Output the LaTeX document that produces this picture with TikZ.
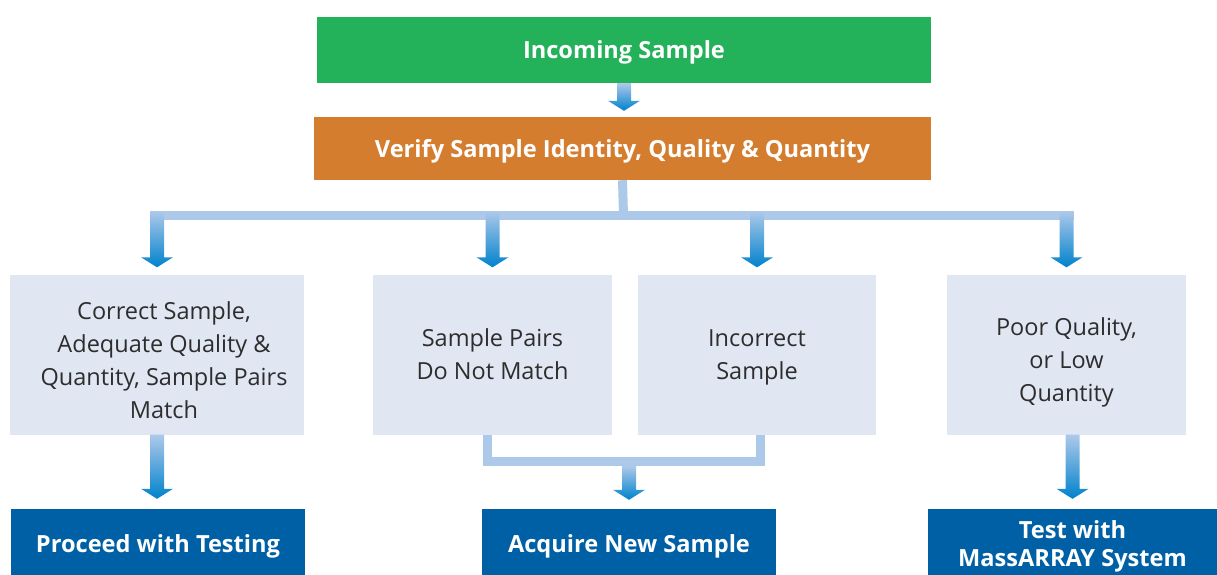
\documentclass[tikz,border=0pt]{standalone}
\usepackage{fontspec}
\setmainfont{Open Sans}
\usepackage{xcolor}
\usetikzlibrary{calc, positioning}

\definecolor{startgreen}{RGB}{35,178,90}
\definecolor{checkorange}{RGB}{213,125,46}
\definecolor{caseshade}{RGB}{224,230,242}
\definecolor{resultblue}{RGB}{0,96,166}
\definecolor{barblue}{RGB}{173,201,234}
\definecolor{arrowblue}{RGB}{0,130,204}
\definecolor{casetext}{RGB}{45,45,45}

% shaded block arrow, from #1 down to the tip #2
\newcommand{\flowarrow}[2]{%
  \shade[top color=barblue, middle color=barblue!80!arrowblue, bottom color=arrowblue]
    let \p1=(#1), \p2=(#2) in
    (\x1-7pt,\y1) -- (\x1+7pt,\y1) -- (\x1+7pt,\y2+10pt) -- (\x1+16pt,\y2+10pt)
    -- (\x1,\y2) -- (\x1-16pt,\y2+10pt) -- (\x1-7pt,\y2+10pt) -- cycle;}
% taller first line, pushes a case text down
\newcommand{\firstline}[1]{\rule{0pt}{#1}}
% pushes one centred line a little to the right
\newcommand{\nudge}{\hspace*{14pt}}

\begin{document}
\begin{tikzpicture}[
    x=1pt, y=-1pt,
    head/.style={rectangle, inner sep=0pt, text=white, align=center, font=\fontsize{23.6}{28}\selectfont\bfseries},
    top/.style={head, text depth=0pt},
    case/.style={rectangle, fill=caseshade, minimum height=160pt, inner sep=0pt, align=center, text=casetext, font=\fontsize{23.5}{33}\selectfont},
    result/.style={head, fill=resultblue, minimum height=75pt},
    bar/.style={barblue, line width=9pt}
]
\useasboundingbox (0,0) rectangle (1217,574);

\node[top, fill=startgreen, minimum width=614pt, minimum height=66pt] (incoming) at (624,50) {Incoming Sample};
\node[top, fill=checkorange, minimum width=617pt, minimum height=63pt] (verify) at (622.5,148.5) {Verify Sample Identity, Quality \& Quantity};

\node[case, minimum width=294pt] (ok) at (157,354.5) {\firstline{30pt}\nudge Correct Sample,\\\nudge Adequate Quality \&\\\nudge Quantity, Sample Pairs\\\nudge Match};
\node[case, minimum width=239pt] (nomatch) at (492.5,354.5) {Sample Pairs\\Do Not Match};
\node[case, minimum width=238pt] (wrong) at (757,354.5) {\firstline{22pt}Incorrect\\Sample};
\node[case, minimum width=239pt] (poor) at (1066.5,354.5) {\firstline{34pt}Poor Quality,\\or Low\\Quantity};

\node[result, minimum width=294pt] (proceed) at (158,546.5) {Proceed with Testing};
\node[result, minimum width=294pt] (acquire) at (629,546.5) {Acquire New Sample};
\node[result, minimum width=289pt] (massarray) at (1072.5,546.5) {Test with\\MassARRAY System};

% top
\flowarrow{incoming.south}{$(verify.north)+(0,-6)$}

% split to the four cases
\coordinate (split) at (623.5,215.5);
\draw[bar] (verify.south) -- (split);
\draw[bar] ($(split -| ok)+(-7,0)$) -- ($(split -| poor)+(7,0)$);
\foreach \c in {ok, nomatch, wrong, poor}
  \flowarrow{$(split -| \c)+(0,-4.5)$}{$(\c.north)+(0,-7)$};

% results
\coordinate (merge) at (623.5,461.5);
\draw[bar] ($(nomatch.south)+(-5,0)$) |- (merge) -| ($(wrong.south)+(3,0)$);
\flowarrow{ok.south}{$(proceed.north)+(0,-10)$}
\flowarrow{$(merge -| acquire)+(0,4.5)$}{$(acquire.north)+(0,-9)$}
\flowarrow{poor.south -| massarray}{$(massarray.north)+(0,-10)$}

\end{tikzpicture}
\end{document}
